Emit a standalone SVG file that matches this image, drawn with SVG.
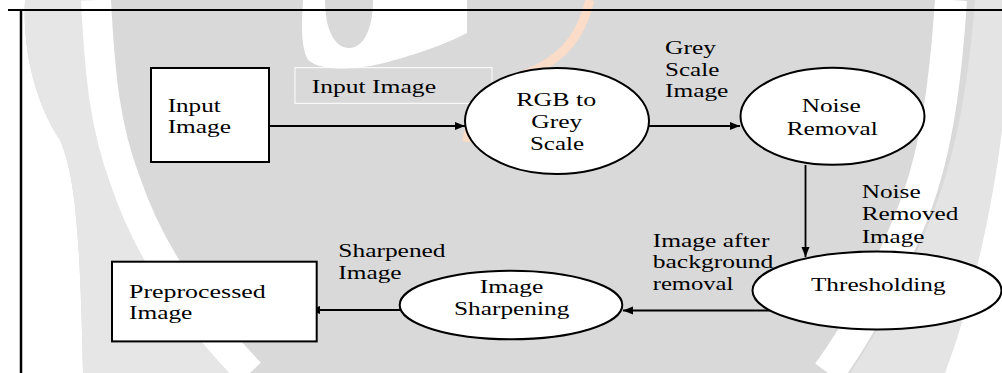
<svg xmlns="http://www.w3.org/2000/svg" width="1002" height="373" viewBox="0 0 1002 373">
<defs>
<style>
.t{font-family:"Liberation Serif","Times New Roman",serif;font-size:19px;fill:#000;}
.m{text-anchor:middle;}
.n{fill:#fff;stroke:#000;stroke-width:2;}
.c{stroke:#000;stroke-width:1.8;fill:none;marker-end:url(#ah);}
</style>
<marker id="ah" markerUnits="userSpaceOnUse" markerWidth="11" markerHeight="9" refX="10" refY="4" orient="auto">
<path d="M0,0 L10,4 L0,8 Z" fill="#000"/>
</marker>
</defs>
<g id="watermark">
<rect x="0" y="0" width="1002" height="373" fill="#d9d9d9"/>
<path d="M0,0 L25,0 C22,60 40,110 60,140 C75,175 80,230 83,373 L0,373 Z" fill="#fff"/>
<path d="M25,0 L90,0 C96,60 104,110 114,140 C130,200 170,270 240,373 L83,373 C80,230 75,175 60,140 C40,110 22,60 25,0 Z" fill="#e6e6e6"/>
<path d="M96,0 C100,80 106,130 125,180 C145,240 180,300 250,373" fill="none" stroke="#fff" stroke-width="30"/>
<path d="M951,0 C945,90 935,160 910,220 C890,270 860,330 828,373" fill="none" stroke="#fff" stroke-width="32"/>
<path d="M975,0 L1002,0 L1002,373 L850,373 C880,330 910,270 930,220 C955,160 968,90 975,0 Z" fill="#e4e4e4"/>
<path d="M1002,130 C990,230 965,320 945,373 L1002,373 Z" fill="#fff"/>
<path d="M303,0 L467,0 L467,33 C440,47 400,60 370,66 C345,70 320,70 308,60 C300,45 302,20 303,0 Z M325,0 C325,30 335,48 349,48 C363,48 373,30 373,0 Z" fill="#fff" fill-rule="evenodd"/>
<path d="M590,0 C580,40 560,62 520,76 C490,86 471,102 467,142" fill="none" stroke="#fadcc8" stroke-width="9"/>
</g>
<g id="frame" stroke="#000" fill="none">
<line x1="8" y1="10" x2="1002" y2="10" stroke-width="2"/>
<line x1="21" y1="10" x2="21" y2="373" stroke-width="2.5"/>
</g>
<g id="connectors">
<line class="c" x1="269" y1="126" x2="465" y2="126"/>
<line class="c" x1="649" y1="126" x2="740" y2="126"/>
<line class="c" x1="805.5" y1="165" x2="805.5" y2="257"/>
<line class="c" x1="770" y1="310.5" x2="623" y2="310.5"/>
<line class="c" x1="400" y1="310" x2="310" y2="310"/>
<rect x="295" y="67.7" width="197" height="35.6" fill="none" stroke="#fff" stroke-width="1"/>
<text class="t" x="311.7" y="92.7" textLength="124.3" lengthAdjust="spacingAndGlyphs">Input Image</text>
<text class="t" x="665" y="54.3" textLength="51" lengthAdjust="spacingAndGlyphs">Grey</text>
<text class="t" x="665" y="76" textLength="54.3" lengthAdjust="spacingAndGlyphs">Scale</text>
<text class="t" x="665" y="97.3" textLength="63.3" lengthAdjust="spacingAndGlyphs">Image</text>
<text class="t" x="861.7" y="198.3" textLength="59" lengthAdjust="spacingAndGlyphs">Noise</text>
<text class="t" x="861.7" y="220" textLength="96.7" lengthAdjust="spacingAndGlyphs">Removed</text>
<text class="t" x="861.7" y="242.7" textLength="62.7" lengthAdjust="spacingAndGlyphs">Image</text>
<text class="t" x="652.7" y="246.7" textLength="116.7" lengthAdjust="spacingAndGlyphs">Image after</text>
<text class="t" x="652.7" y="268.3" textLength="120.7" lengthAdjust="spacingAndGlyphs">background</text>
<text class="t" x="652.7" y="290" textLength="80.7" lengthAdjust="spacingAndGlyphs">removal</text>
<text class="t" x="338.3" y="257.3" textLength="107.3" lengthAdjust="spacingAndGlyphs">Sharpened</text>
<text class="t" x="338.3" y="279" textLength="63.3" lengthAdjust="spacingAndGlyphs">Image</text>
</g>
<g id="input-image">
<rect class="n" x="151" y="68" width="118" height="94"/>
<text class="t" x="167.7" y="111.7" textLength="53" lengthAdjust="spacingAndGlyphs">Input</text>
<text class="t" x="167.7" y="133.3" textLength="63.3" lengthAdjust="spacingAndGlyphs">Image</text>
</g>
<g id="rgb-to-grey">
<ellipse class="n" cx="557" cy="121" rx="92" ry="53"/>
<text class="t m" x="556.3" y="106" textLength="80" lengthAdjust="spacingAndGlyphs">RGB to</text>
<text class="t m" x="556.8" y="128.3" textLength="51" lengthAdjust="spacingAndGlyphs">Grey</text>
<text class="t m" x="557" y="150" textLength="54" lengthAdjust="spacingAndGlyphs">Scale</text>
</g>
<g id="noise-removal">
<ellipse class="n" cx="832.5" cy="116.3" rx="92" ry="48.5"/>
<text class="t m" x="831.2" y="111.7" textLength="59" lengthAdjust="spacingAndGlyphs">Noise</text>
<text class="t m" x="832.2" y="135" textLength="91" lengthAdjust="spacingAndGlyphs">Removal</text>
</g>
<g id="thresholding">
<ellipse class="n" cx="877" cy="290.5" rx="124.5" ry="39"/>
<text class="t m" x="878.3" y="291" textLength="134.7" lengthAdjust="spacingAndGlyphs">Thresholding</text>
</g>
<g id="image-sharpening">
<ellipse class="n" cx="511" cy="305" rx="111.3" ry="34.2"/>
<text class="t m" x="511.5" y="293.3" textLength="63.6" lengthAdjust="spacingAndGlyphs">Image</text>
<text class="t m" x="511.7" y="315" textLength="115.3" lengthAdjust="spacingAndGlyphs">Sharpening</text>
</g>
<g id="preprocessed-image">
<rect class="n" x="112" y="261.7" width="204.7" height="79.7"/>
<text class="t" x="129" y="298.3" textLength="136.7" lengthAdjust="spacingAndGlyphs">Preprocessed</text>
<text class="t" x="129" y="319.3" textLength="63.3" lengthAdjust="spacingAndGlyphs">Image</text>
</g>
</svg>
